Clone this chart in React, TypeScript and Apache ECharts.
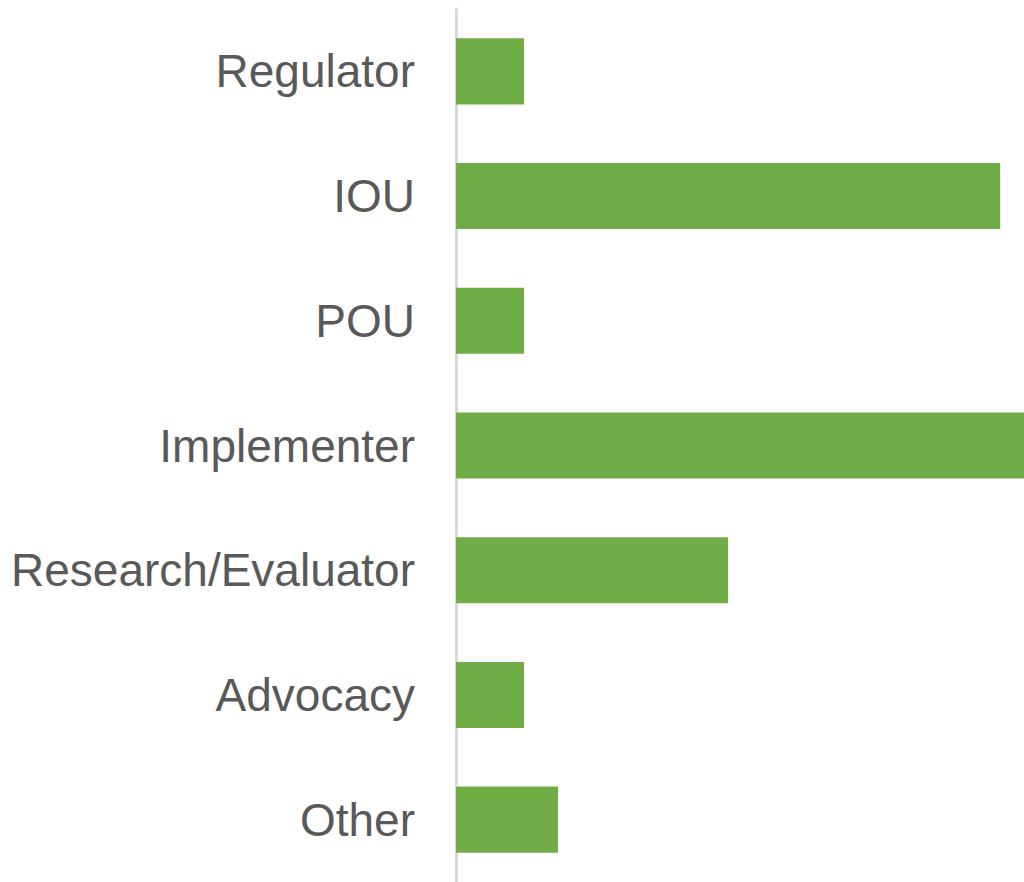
import React, { useEffect, useRef } from "react";
import * as echarts from "echarts";

const categories = ["Regulator", "IOU", "POU", "Implementer", "Research/Evaluator", "Advocacy", "Other"];
const values = [2, 16, 2, 17, 8, 2, 3];

export default function App() {
  const ref = useRef<HTMLDivElement>(null);
  useEffect(() => {
    if (!ref.current) return;
    const chart = echarts.init(ref.current, undefined, { renderer: "svg" });
    chart.setOption({
      animation: false,
      grid: { left: 456, top: 9, right: 0, height: 875, containLabel: false },
      xAxis: {
        type: "value",
        min: 0,
        max: 16.7,
        show: false,
        splitLine: { show: false },
      },
      yAxis: {
        type: "category",
        data: categories,
        inverse: true,
        axisLine: { show: true, lineStyle: { color: "#d9d9d9", width: 3 } },
        axisTick: { show: false },
        axisLabel: {
          fontFamily: "Liberation Sans, Arial, sans-serif",
          fontSize: 46,
          color: "#595959",
          margin: 41,
        },
      },
      series: [
        {
          type: "bar",
          data: values,
          barCategoryGap: "47%",
          itemStyle: { color: "#70ad47" },
          clip: true,
        },
      ],
    });
    return () => chart.dispose();
  }, []);
  return (
    <div
      ref={ref}
      style={{ position: "absolute", left: 0, top: 0, width: 1024, height: 882, background: "#fff" }}
    />
  );
}
